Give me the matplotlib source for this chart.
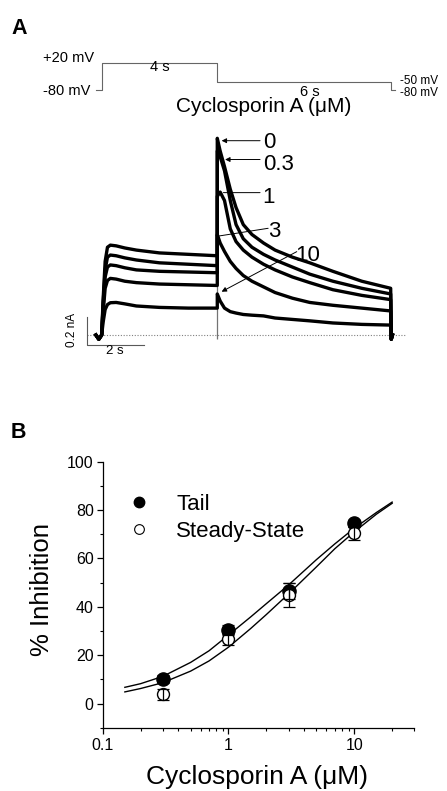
import matplotlib
matplotlib.use("Agg")
import matplotlib.pyplot as plt
from matplotlib.lines import Line2D

plt.rcParams['font.family'] = ['Liberation Sans', 'DejaVu Sans']

W, H = 447, 791

# ---- panel A: voltage protocol (s, mV)
prot_t = [-0.2, 0, 4, 10, 10.15]
prot_v = [-80, 20, -50, -80, -80]

# ---- panel A: current traces (nA)
conc_labels = ['0', '0.3', '1', '3', '10']
step_t = [-0.2, -0.1, 0.0, 0.05, 0.12, 0.2, 0.3, 0.5, 0.8, 1.2, 2.0, 3.0, 4.0]
step_0 = [0, -0.03, 0, 0.25, 0.52, 0.62, 0.635, 0.63, 0.615, 0.60, 0.58, 0.57, 0.56]
step_03 = [0, -0.03, 0, 0.22, 0.46, 0.55, 0.565, 0.56, 0.545, 0.53, 0.51, 0.50, 0.49]
step_1 = [0, -0.03, 0, 0.20, 0.41, 0.48, 0.495, 0.49, 0.475, 0.46, 0.45, 0.445, 0.44]
step_3 = [0, -0.03, 0, 0.16, 0.33, 0.385, 0.40, 0.395, 0.38, 0.37, 0.36, 0.355, 0.35]
step_10 = [0, -0.03, 0, 0.09, 0.18, 0.215, 0.228, 0.23, 0.22, 0.205, 0.195, 0.19, 0.19]

tail_t = [4.0, 4.1, 4.25, 4.45, 4.65, 4.9, 5.2, 5.6, 6.0, 6.6, 7.2, 8.0, 9.0, 10.0]
tail_0 = [1.39, 1.30, 1.19, 1.03, 0.90, 0.78, 0.71, 0.65, 0.60, 0.55, 0.51, 0.45, 0.38, 0.33]
tail_03 = [1.30, 1.26, 1.16, 0.95, 0.78, 0.68, 0.62, 0.57, 0.53, 0.48, 0.43, 0.38, 0.33, 0.29]
tail_1 = [0.98, 1.01, 0.95, 0.75, 0.66, 0.60, 0.55, 0.50, 0.46, 0.41, 0.37, 0.32, 0.28, 0.25]
tail_3 = [0.71, 0.65, 0.59, 0.52, 0.47, 0.42, 0.38, 0.34, 0.30, 0.26, 0.23, 0.21, 0.19, 0.17]
tail_10 = [0.29, 0.24, 0.19, 0.165, 0.155, 0.145, 0.14, 0.135, 0.12, 0.11, 0.10, 0.085, 0.075, 0.07]

end_t = [10.02, 10.06]
end_i = [-0.03, 0.0]
transient = [-0.03, 1.40]

# ---- panel B: concentration-response
conc = [0.3, 1, 3, 10]
tail_inh = [10.1, 30.3, 46.5, 74.5]
tail_err = [1.5, 2.0, 3.2, 1.5]
ss_inh = [3.8, 26.5, 44.8, 70.4]
ss_err = [2.2, 2.4, 5.0, 2.6]

fit_x = [0.15, 0.2, 0.3, 0.5, 0.7, 1.0, 1.5, 2.0, 3.0, 5.0, 7.0, 10, 15, 20]
fit_tail = [6.7, 8.2, 11.2, 17.0, 21.8, 28.3, 35.8, 41.3, 49.0, 59.5, 66.0, 72.5, 79.0, 83.3]
fit_ss = [4.8, 6.2, 8.6, 13.4, 17.6, 23.3, 31.0, 36.8, 45.3, 56.5, 64.0, 71.0, 78.3, 82.8]


def fx(x):
    return x / W


def fy(y):
    return 1 - y / H


fig = plt.figure(figsize=(W / 100, H / 100), dpi=100)

fig.text(fx(11), fy(28), 'A', fontsize=15.5, fontweight='bold', va='center')
fig.text(fx(11), fy(433), 'B', fontsize=15.5, fontweight='bold', va='center')

# protocol
axP = fig.add_axes([fx(67), fy(95.4), 346.8 / W, 37.8 / H])
axP.set_xlim(-1.2, 10.8)
axP.set_ylim(-100, 40)
axP.axis('off')
axP.plot(prot_t, prot_v, drawstyle='steps-post', color='0.4', lw=0.8)
axP.text(-0.26, 37, '+20 mV', ha='right', va='center', fontsize=10.5)
axP.text(-0.40, -85, '-80 mV', ha='right', va='center', fontsize=10.5)
axP.text(2.0, 6, '4 s', ha='center', va='center', fontsize=10.5)
axP.text(7.2, -87, '6 s', ha='center', va='center', fontsize=10.5)
axP.text(10.32, -47, '-50 mV', ha='left', va='center', fontsize=8.5)
axP.text(10.32, -90, '-80 mV', ha='left', va='center', fontsize=8.5)

fig.text(fx(264), fy(107), 'Cyclosporin A (\u03bcM)', ha='center', va='center', fontsize=15)

# traces
axA = fig.add_axes([fx(67), fy(363.3), 346.8 / W, 233.5 / H])
axA.set_xlim(-1.2, 10.8)
axA.set_ylim(-0.2, 1.45)
axA.axis('off')
axA.hlines(0, -0.5, 10.5, colors='0.5', linestyles=(0, (1, 1.5)), lw=0.8)
axA.vlines(4.0, transient[0], transient[1], colors='0.45', lw=0.9, zorder=1)
steps = [step_0, step_03, step_1, step_3, step_10]
tails = [tail_0, tail_03, tail_1, tail_3, tail_10]
for s, tl in zip(steps, tails):
    axA.plot(step_t + tail_t + end_t, s + tl + end_i, color='k', lw=2.4,
             solid_joinstyle='round', zorder=2)

# scale bars
axA.plot([-0.52, -0.52, 1.48], [0.129, -0.071, -0.071], color='0.35', lw=0.8)
axA.text(-1.04, 0.035, '0.2 nA', rotation=90, ha='center', va='center', fontsize=8.5)
axA.text(0.46, -0.11, '2 s', ha='center', va='center', fontsize=9.5)

# concentration labels
ann = dict(arrowstyle='-|>', color='k', lw=0.7, mutation_scale=7, shrinkA=0, shrinkB=0)
ann_line = dict(arrowstyle='-', color='k', lw=0.7, shrinkA=0, shrinkB=0)
axA.annotate('', xy=(4.15, 1.373), xytext=(5.48, 1.373), arrowprops=ann)
axA.annotate('', xy=(4.27, 1.24), xytext=(5.48, 1.24), arrowprops=ann)
axA.annotate('', xy=(4.21, 1.006), xytext=(5.48, 1.006), arrowprops=ann_line)
axA.annotate('', xy=(4.07, 0.70), xytext=(5.76, 0.754), arrowprops=ann_line)
axA.annotate('', xy=(4.15, 0.306), xytext=(6.75, 0.589), arrowprops=ann)
lab_pos = [(5.58, 1.36), (5.58, 1.205), (5.55, 0.97), (5.75, 0.73), (6.69, 0.565)]
for lab, (tx, ty) in zip(conc_labels, lab_pos):
    axA.text(tx, ty, lab, ha='left', va='center', fontsize=16)

# panel B
axB = fig.add_axes([fx(102.7), fy(727.7), 311.6 / W, 266 / H])
axB.set_xscale('log')
axB.set_xlim(0.1, 30)
axB.set_ylim(-10, 100)
for sp in ['top', 'right']:
    axB.spines[sp].set_visible(False)
for sp in ['left', 'bottom']:
    axB.spines[sp].set_linewidth(0.9)
axB.set_yticks([0, 20, 40, 60, 80, 100])
axB.set_yticks([-10, 10, 30, 50, 70, 90], minor=True)
axB.set_xticks([0.1, 1, 10])
axB.set_xticklabels(['0.1', '1', '10'])
axB.tick_params(which='major', direction='out', length=4.5, width=0.9, labelsize=11.5, pad=2)
axB.tick_params(which='minor', direction='out', length=2.5, width=0.8)
axB.tick_params(axis='x', which='major', pad=3)

axB.plot(fit_x, fit_tail, color='k', lw=1.0, zorder=2)
axB.plot(fit_x, fit_ss, color='k', lw=1.0, zorder=2)
axB.plot(conc, tail_inh, 'o', color='k', ms=9.5, zorder=3)
axB.plot(conc, ss_inh, 'o', mfc='white', mec='k', mew=1.0, ms=8.6, zorder=4)
axB.errorbar(conc, tail_inh, yerr=tail_err, fmt='none', ecolor='k', elinewidth=0.9,
             capsize=4.5, capthick=0.9, zorder=5)
axB.errorbar(conc, ss_inh, yerr=ss_err, fmt='none', ecolor='k', elinewidth=0.9,
             capsize=4.5, capthick=0.9, zorder=5)

handles = [Line2D([], [], marker='o', ls='', color='k', ms=7.5),
           Line2D([], [], marker='o', ls='', mfc='white', mec='k', mew=0.8, ms=7)]
axB.legend(handles, ['Tail', 'Steady-State'], frameon=False, fontsize=16,
           loc='upper left', bbox_to_anchor=(fx(127.5), fy(494)),
           bbox_transform=fig.transFigure, borderpad=0, borderaxespad=0,
           handlelength=1.0, handletextpad=1.2, labelspacing=0.25)

fig.text(fx(41.7), fy(589), '% Inhibition', rotation=90, ha='center', va='center', fontsize=18.5)
fig.text(fx(256.7), fy(777), 'Cyclosporin A (\u03bcM)', ha='center', va='center', fontsize=19)

fig.savefig('out.png', dpi=100)
